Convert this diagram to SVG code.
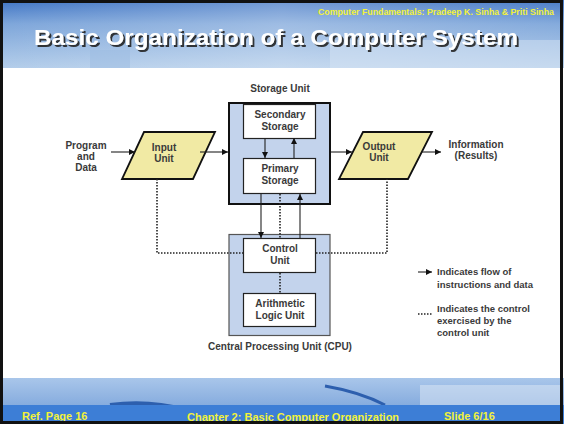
<svg xmlns="http://www.w3.org/2000/svg" width="564" height="424" viewBox="0 0 564 424">
<defs>
<linearGradient id="hdr" x1="0" y1="0" x2="0" y2="1">
<stop offset="0" stop-color="#3f74c4"/>
<stop offset="0.35" stop-color="#7ea6da"/>
<stop offset="1" stop-color="#b3cdea"/>
</linearGradient>
<linearGradient id="hdrx" x1="0" y1="0" x2="1" y2="0">
<stop offset="0" stop-color="#ffffff" stop-opacity="0"/>
<stop offset="0.5" stop-color="#ffffff" stop-opacity="0.25"/>
<stop offset="1" stop-color="#ffffff" stop-opacity="0.05"/>
</linearGradient>
<linearGradient id="ftr" x1="0" y1="0" x2="0" y2="1">
<stop offset="0" stop-color="#a9c6ea"/>
<stop offset="1" stop-color="#6e9ad6"/>
</linearGradient>
<filter id="shadow" x="-5%" y="-30%" width="110%" height="160%">
<feDropShadow dx="2" dy="2" stdDeviation="0.6" flood-color="#222" flood-opacity="0.9"/>
</filter>
<marker id="ah" viewBox="0 0 8 8" refX="8" refY="4" markerWidth="6" markerHeight="6" orient="auto" markerUnits="userSpaceOnUse">
<path d="M0,0 L8,4 L0,8 z" fill="#111"/>
</marker>
<style>
.lbl{font-family:"Liberation Sans",Arial,sans-serif;font-weight:bold;font-size:10px;fill:#3a3a3a;text-anchor:middle}
.leg{font-family:"Liberation Sans",Arial,sans-serif;font-weight:bold;font-size:9.5px;fill:#3a3a3a}
.yel{font-family:"Liberation Sans",Arial,sans-serif;font-weight:bold;font-size:11px;fill:#f2f23a}
.box{fill:#ffffff;stroke:#222;stroke-width:1.2}
.para{fill:#f1eaa4;stroke:#111;stroke-width:1.8}
.flow{stroke:#222;stroke-width:1.1;fill:none;marker-end:url(#ah)}
.dot{stroke:#222;stroke-width:1.6;stroke-dasharray:1.5 1.5;fill:none}
</style>
</defs>
<rect x="0" y="0" width="564" height="424" fill="#ffffff"/>
<!-- header -->
<rect x="0" y="0" width="564" height="68" fill="url(#hdr)"/>
<rect x="0" y="0" width="564" height="68" fill="url(#hdrx)"/>
<rect x="330" y="40" width="230" height="28" fill="#d6e4f4" opacity="0.5"/>
<rect x="90" y="50" width="40" height="18" fill="#9cbbe2" opacity="0.5"/>
<text class="yel" x="554" y="15" text-anchor="end" style="font-size:8.8px">Computer Fundamentals: Pradeep K. Sinha &amp; Priti Sinha</text>
<text x="34" y="45" font-family="Liberation Sans,Arial,sans-serif" font-weight="bold" font-size="22" fill="#ffffff" textLength="484" lengthAdjust="spacingAndGlyphs" filter="url(#shadow)">Basic Organization of a Computer System</text>
<!-- footer -->
<rect x="0" y="378" width="564" height="46" fill="url(#ftr)"/>
<path d="M110,405 Q150,400 185,410" stroke="#2d5fae" stroke-width="4" fill="none"/>
<path d="M325,386 Q360,392 385,405" stroke="#2d5fae" stroke-width="3" fill="none"/>
<rect x="420" y="385" width="140" height="20" fill="#dfe9f5" opacity="0.5"/>
<rect x="0" y="405" width="564" height="19" fill="#3d7ed6"/>
<text class="yel" x="22" y="420">Ref. Page 16</text>
<text class="yel" x="187" y="421">Chapter 2:  Basic Computer Organization</text>
<text class="yel" x="444" y="420">Slide 6/16</text>
<rect x="1.5" y="1.5" width="560" height="421" fill="none" stroke="#111" stroke-width="3"/>
<!-- nodes -->
<g id="program-data">
<text class="lbl" x="86" y="149">Program</text>
<text class="lbl" x="86" y="160">and</text>
<text class="lbl" x="86" y="171">Data</text>
</g>
<g id="input-unit">
<polygon class="para" points="144,132 215,132 193,179 122,179"/>
<text class="lbl" x="164" y="151">Input</text>
<text class="lbl" x="164" y="162">Unit</text>
</g>
<g id="storage-unit">
<text class="lbl" x="280" y="92">Storage Unit</text>
<rect x="229" y="103" width="101" height="101" fill="#c3d3ec" stroke="#111" stroke-width="2"/>
</g>
<g id="secondary-storage">
<rect class="box" x="243.5" y="104.5" width="72" height="34"/>
<text class="lbl" x="280" y="118">Secondary</text>
<text class="lbl" x="280" y="130">Storage</text>
</g>
<g id="primary-storage">
<rect class="box" x="243.5" y="158.5" width="72" height="35"/>
<text class="lbl" x="280" y="172">Primary</text>
<text class="lbl" x="280" y="184">Storage</text>
</g>
<g id="output-unit">
<polygon class="para" points="363,132 432,132 408,179 339,179"/>
<text class="lbl" x="379" y="150">Output</text>
<text class="lbl" x="379" y="161">Unit</text>
</g>
<g id="information">
<text class="lbl" x="476" y="148">Information</text>
<text class="lbl" x="476" y="159">(Results)</text>
</g>
<g id="cpu">
<rect x="229" y="234.5" width="101" height="101" fill="#c3d3ec" stroke="#555" stroke-width="1.2"/>
<text class="lbl" x="280" y="350">Central Processing Unit (CPU)</text>
</g>
<g id="control-unit">
<rect class="box" x="243.5" y="238.5" width="72" height="34"/>
<text class="lbl" x="280" y="252">Control</text>
<text class="lbl" x="280" y="264">Unit</text>
</g>
<g id="alu">
<rect class="box" x="243.5" y="293.5" width="72" height="33"/>
<text class="lbl" x="280" y="307">Arithmetic</text>
<text class="lbl" x="280" y="319">Logic Unit</text>
</g>
<g id="legend">
<line class="flow" x1="418" y1="272" x2="432" y2="272"/>
<text class="leg" x="437" y="275">Indicates flow of</text>
<text class="leg" x="437" y="288">instructions and data</text>
<line class="dot" x1="418" y1="314" x2="432" y2="314"/>
<text class="leg" x="437" y="312">Indicates the control</text>
<text class="leg" x="437" y="324">exercised by the</text>
<text class="leg" x="437" y="336">control unit</text>
</g>
<!-- connectors -->
<g id="connectors">
<line class="flow" x1="111" y1="152" x2="135" y2="152"/>
<line class="flow" x1="200" y1="152" x2="228" y2="152"/>
<line class="flow" x1="331" y1="152" x2="352" y2="152"/>
<line class="flow" x1="422" y1="152" x2="441" y2="152"/>
<line class="flow" x1="265" y1="138" x2="265" y2="158"/>
<line class="flow" x1="294" y1="158" x2="294" y2="138"/>
<line class="flow" x1="261" y1="194" x2="261" y2="238"/>
<line class="flow" x1="300" y1="238" x2="300" y2="194"/>
<line class="dot" x1="280" y1="194" x2="280" y2="238"/>
<line class="dot" x1="280" y1="273" x2="280" y2="293"/>
<polyline class="dot" points="157,179 157,253 243,253"/>
<polyline class="dot" points="316,253 387,253 387,179"/>
</g>
</svg>
